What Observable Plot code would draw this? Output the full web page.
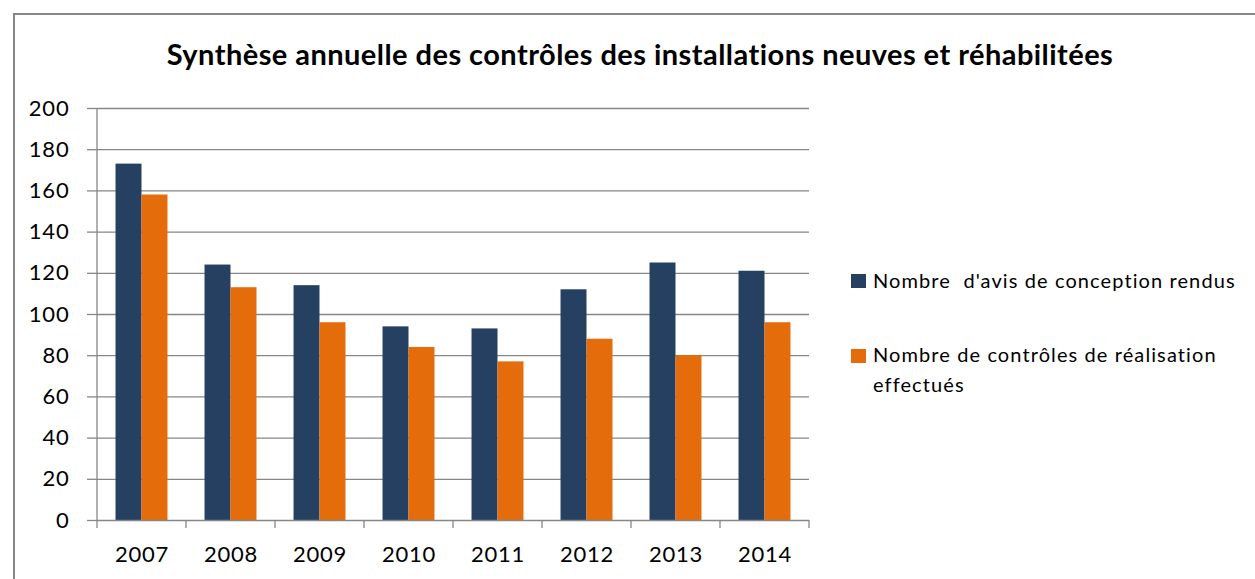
<!DOCTYPE html>
<html><head><meta charset="utf-8">
<script src="https://cdn.jsdelivr.net/npm/d3@7"></script>
<script src="https://cdn.jsdelivr.net/npm/@observablehq/plot@0.6"></script>
<style>
html,body{margin:0;padding:0;background:#fff;}
body{width:1255px;height:579px;position:relative;overflow:hidden;font-family:Lato,"Open Sans",sans-serif;color:#000;}
#frame{position:absolute;left:13px;top:13px;width:1300px;height:620px;border:2px solid #878787;box-sizing:border-box;}
#title{position:absolute;left:0;top:39px;width:1280px;text-align:center;font-weight:bold;font-size:29px;letter-spacing:0.45px;line-height:30px;white-space:nowrap;}
#chart{position:absolute;left:0;top:80px;}
.leg-sq{position:absolute;width:15px;height:14px;}
.leg-tx{position:absolute;left:873px;width:385px;font-size:20px;letter-spacing:1.1px;line-height:30px;white-space:pre-wrap;}
</style></head>
<body>
<div id="frame"></div>
<div id="title">Synthèse annuelle des contrôles des installations neuves et réhabilitées</div>
<div id="chart"></div>
<div id="legend"></div>
<script>
const years = ["2007", "2008", "2009", "2010", "2011", "2012", "2013", "2014"];
const avis = [173, 124, 114, 94, 93, 112, 125, 121];
const controles = [158, 113, 96, 84, 77, 88, 80, 96];
const seriesNames = ["Nombre  d'avis de conception rendus", "Nombre de contrôles de réalisation effectués"];
const seriesColors = ["#264061", "#E46C0A"];
const yTicks = [0, 20, 40, 60, 80, 100, 120, 140, 160, 180, 200];

const rows = years.flatMap((yr, i) => [
  {year: yr, series: seriesNames[0], value: avis[i]},
  {year: yr, series: seriesNames[1], value: controles[i]}
]);

const gray = "#878787";
const chart = Plot.plot({
  width: 830, height: 499,
  marginLeft: 97, marginRight: 21, marginTop: 28, marginBottom: 59,
  style: {fontFamily: "Lato, 'Open Sans', sans-serif", fontSize: "22px", letterSpacing: "0.8px", color: "#000", background: "transparent", overflow: "visible"},
  fx: {domain: years, padding: 0, round: false, label: null},
  x: {domain: seriesNames, paddingInner: 0, paddingOuter: 0.713, round: false, axis: null},
  y: {domain: [0, 200], label: null},
  color: {domain: seriesNames, range: seriesColors},
  marks: [
    Plot.gridY(yTicks.filter(t => t > 0), {stroke: gray, strokeOpacity: 1, strokeWidth: 1.3}),
    Plot.barY(rows, {fx: "year", x: "series", y: "value", fill: "series"}),
    Plot.ruleY([0], {stroke: gray, strokeWidth: 1.3}),
    Plot.axisY(yTicks, {tickSize: 10, tickPadding: 18, stroke: gray, strokeWidth: 1.3, fill: "#000", fontSize: 22, label: null}),
    Plot.axisFx({anchor: "bottom", tickSize: 0, tickPadding: 26, fontSize: 22, fill: "#000", label: null})
  ]
});
document.getElementById("chart").appendChild(chart);

// axis line and category boundary ticks, positioned via the chart's own scales
const fx = chart.scale("fx");
const ys = chart.scale("y");
const y0 = ys.apply(0), yTop = ys.apply(200);
const x0 = fx.apply(years[0]);
const bounds = years.map(y => fx.apply(y)).concat([fx.apply(years[years.length - 1]) + fx.bandwidth]);
const g = d3.select(chart).append("g").attr("stroke", gray).attr("stroke-width", 1.3);
g.append("line").attr("x1", x0).attr("x2", x0).attr("y1", yTop).attr("y2", y0);
g.selectAll("line.b").data(bounds).join("line").attr("class", "b")
  .attr("x1", d => d).attr("x2", d => d).attr("y1", y0).attr("y2", y0 + 8);

// legend
const legTops = [264.6, 339.3];
const leg = d3.select("#legend");
seriesNames.forEach((name, i) => {
  leg.append("div").attr("class", "leg-sq")
    .style("left", "851px").style("top", (legTops[i] + 9.5) + "px").style("background", seriesColors[i]);
  leg.append("div").attr("class", "leg-tx").style("top", legTops[i] + "px").text(name);
});
</script>
</body></html>
